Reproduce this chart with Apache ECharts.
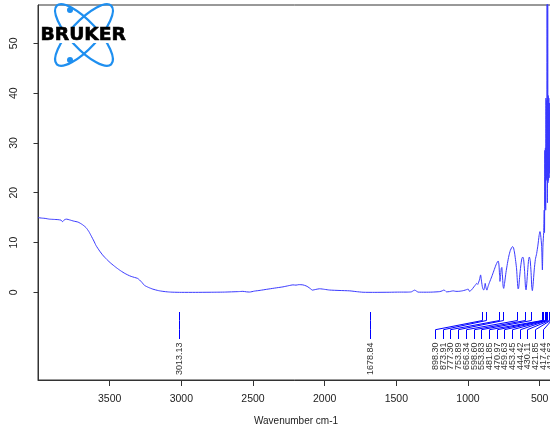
<!DOCTYPE html>
<html>
<head>
<meta charset="utf-8">
<script src="https://cdn.jsdelivr.net/npm/echarts@6/dist/echarts.min.js"></script>
<style>
  html, body { margin: 0; padding: 0; background: #ffffff; }
  #chart { width: 550px; height: 425px; }
</style>
</head>
<body>
<div id="chart"></div>
<script>
// IR spectrum: wavenumber (cm-1) and intensity
const wavenumbers = [
  4000, 3970, 3950, 3920, 3890, 3860, 3840, 3828, 3815, 3800, 3780, 3750, 3720, 3690, 3665, 3645,
  3630, 3610, 3595, 3570, 3549, 3520, 3490, 3460, 3432, 3400, 3374, 3350, 3327, 3305, 3292, 3275,
  3257, 3230, 3199, 3160, 3129, 3090, 3059, 3000, 2900, 2800, 2757, 2700, 2650, 2600, 2571, 2545,
  2524, 2490, 2450, 2407, 2350, 2291, 2250, 2221, 2200, 2180, 2152, 2130, 2117, 2100, 2086, 2060,
  2035, 2000, 1965, 1900, 1825, 1780, 1732, 1650, 1550, 1477, 1420, 1395, 1380, 1371, 1360, 1348,
  1300, 1250, 1197, 1180, 1170, 1160, 1150, 1130, 1103, 1085, 1068, 1040, 1020, 1010, 999, 990,
  987, 975, 959, 945, 940, 932, 929, 920, 912, 907, 901, 895, 889, 884, 880, 875,
  868, 860, 850, 835, 820, 805, 795, 789, 784, 780, 777, 773, 768, 764, 760, 755,
  751, 745, 735, 725, 715, 705, 695, 689, 682, 675, 667, 661, 656, 651, 647, 640,
  632, 624, 618, 612, 605, 599, 595, 590, 583, 577, 572, 566, 560, 555, 551, 546,
  538, 530, 521, 512, 504, 498, 493, 486, 481, 477, 472, 468, 466, 464, 462, 460,
  458, 456, 454, 452, 450, 448, 446, 444, 442, 440, 438, 436, 434, 432, 430, 428,
  425, 420, 415, 410, 405, 400
];
const intensity = [
  15.0, 14.9, 14.85, 14.7, 14.65, 14.6, 14.5, 14.2, 14.6, 14.7, 14.55, 14.3, 14.1, 13.6, 13.0, 12.2,
  11.4, 10.3, 9.4, 8.3, 7.5, 6.6, 5.8, 5.1, 4.5, 3.9, 3.5, 3.2, 3.0, 2.8, 2.5, 2.0,
  1.4, 1.0, 0.65, 0.35, 0.2, 0.08, 0.03, 0.0, 0.0, 0.02, 0.03, 0.05, 0.1, 0.15, 0.2, 0.1,
  0.06, 0.25, 0.4, 0.6, 0.85, 1.1, 1.35, 1.5, 1.45, 1.55, 1.5, 1.3, 1.1, 0.75, 0.45, 0.6,
  0.72, 0.6, 0.46, 0.38, 0.3, 0.15, 0.02, 0.0, 0.02, 0.05, 0.05, 0.1, 0.35, 0.45, 0.25, 0.05,
  0.03, 0.05, 0.15, 0.3, 0.45, 0.35, 0.1, 0.15, 0.3, 0.2, 0.2, 0.3, 0.45, 0.55, 0.65, 0.2,
  0.1, 0.5, 1.1, 1.6, 1.8, 1.6, 1.5, 2.5, 3.5, 2.5, 1.3, 0.6, 0.5, 1.2, 1.8, 1.0,
  0.45, 1.2, 2.0, 3.1, 4.3, 5.5, 6.1, 6.3, 5.5, 3.5, 2.2, 3.2, 4.8, 5.0, 3.6, 1.2,
  0.8, 1.8, 4.0, 5.8, 7.3, 8.4, 9.0, 9.2, 8.9, 7.9, 6.2, 4.7, 2.5, 0.7, 0.8, 3.0,
  5.3, 6.8, 7.1, 6.6, 4.2, 1.0, 0.5, 1.8, 4.6, 6.6, 7.1, 6.4, 4.0, 1.0, 0.35, 1.5,
  4.5, 6.6, 7.8, 9.5, 11.4, 12.2, 11.5, 9.2, 4.5, 9.5, 12.0, 16.5, 12.0, 28.5, 17.0, 29.0,
  16.5, 39.0, 22.5, 38.5, 23.0, 62.0, 18.0, 62.0, 22.0, 39.5, 22.5, 39.0, 23.0, 38.0, 24.0, 36.0,
  25.0, 33.0, 27.0, 30.0, 28.0, 29.0
];

// Picked peaks (cm-1)
const peakWavenumbers = [
  3013.13, 1678.84, 898.30, 873.91, 777.30, 753.89, 656.34, 598.60, 553.83,
  481.85, 470.97, 459.63, 453.45, 444.42, 430.11, 421.85, 417.44, 412.63
];

const xTicks = [3500, 3000, 2500, 2000, 1500, 1000, 500];
const yTicks = [0, 10, 20, 30, 40, 50];

const FRAME = '#333333';
const TEXT = '#222222';
const SPECTRUM_BLUE = '#3a3aff';
const PEAK_BLUE = '#0000ff';
const LOGO_BLUE = '#1e8ff0';
const SANS = "'Liberation Sans', Arial, sans-serif";

const spectrum = wavenumbers.map((w, i) => [w, intensity[i]]);

// snap a 1px vertical line onto a pixel column
const crisp = x => Math.round(x - 0.5) + 0.5;

// Spread peak labels so neighbours keep a minimum spacing, pushing leftwards
function layoutPeakLabels(api, coordSys) {
  const gap = 7.67;
  const rightLimit = coordSys.x + coordSys.width - 3.3;
  const px = peakWavenumbers.map(v => api.coord([v, 0])[0]);
  const order = px.map((_, i) => i).sort((a, b) => px[a] - px[b]);
  const lx = new Array(px.length);
  let next = Infinity;
  for (let k = order.length - 1; k >= 0; k--) {
    const i = order[k];
    let x = Math.min(px[i], next - gap);
    if (k === order.length - 1) x = Math.min(px[i], rightLimit);
    lx[i] = x;
    next = x;
  }
  return lx;
}

function renderPeak(params, api) {
  const idx = params.dataIndex;
  const v = api.value(0);
  const p = api.coord([v, 0]);
  const lx = crisp(layoutPeakLabels(api, params.coordSys)[idx]);
  const px = crisp(p[0]);
  const y0 = Math.round(p[1]);
  return {
    type: 'group',
    children: [
      {
        type: 'polyline',
        shape: { points: [[px, y0 + 20], [px, y0 + 28.5], [lx, y0 + 37.7], [lx, y0 + 47]] },
        style: { stroke: PEAK_BLUE, lineWidth: 1, fill: null }
      },
      {
        type: 'text',
        x: lx,
        y: y0 + 50.5,
        rotation: Math.PI / 2,
        style: {
          text: v.toFixed(2),
          fontSize: 9,
          fontFamily: SANS,
          fill: '#333333',
          align: 'right',
          verticalAlign: 'middle'
        }
      }
    ]
  };
}

const chart = echarts.init(document.getElementById('chart'), null, { renderer: 'canvas' });

chart.setOption({
  animation: false,
  backgroundColor: '#ffffff',
  grid: {
    left: 38, top: 5, width: 516, height: 375,
    outerBoundsMode: 'none',
    containLabel: false,
    show: true, borderColor: FRAME, borderWidth: 1, backgroundColor: 'transparent'
  },
  xAxis: {
    type: 'value',
    inverse: true,
    min: 400,
    max: 4000,
    name: 'Wavenumber cm-1',
    nameLocation: 'middle',
    nameGap: 36,
    nameTextStyle: { fontSize: 10, fontFamily: SANS, color: TEXT },
    axisLine: { show: true, onZero: false, lineStyle: { color: FRAME, width: 1 } },
    axisTick: { show: true, inside: false, length: 6, customValues: xTicks, lineStyle: { color: FRAME } },
    axisLabel: {
      customValues: xTicks, fontSize: 10.5, fontFamily: SANS, color: TEXT, margin: 14,
      formatter: v => String(v)
    },
    splitLine: { show: false }
  },
  yAxis: {
    type: 'value',
    min: -17.6,
    max: 57.7,
    axisLine: { show: true, onZero: false, lineStyle: { color: FRAME, width: 1 } },
    axisTick: { show: true, inside: false, length: 4.5, customValues: yTicks, lineStyle: { color: FRAME } },
    axisLabel: {
      customValues: yTicks, rotate: 90, fontSize: 10.5, fontFamily: SANS, color: TEXT, margin: 18,
      formatter: v => String(v)
    },
    splitLine: { show: false }
  },
  series: [
    {
      type: 'line',
      data: spectrum,
      showSymbol: false,
      symbol: 'none',
      smooth: 0.2,
      clip: true,
      lineStyle: { color: SPECTRUM_BLUE, width: 1 },
      z: 3
    },
    {
      type: 'custom',
      data: peakWavenumbers.map(v => [v, 0]),
      encode: { x: 0, y: 1 },
      renderItem: renderPeak,
      clip: false,
      z: 4
    }
  ],
  graphic: [
    {
      type: 'group',
      z: 100,
      children: [
        {
          type: 'ellipse', x: 84, y: 35, rotation: -Math.PI / 4 * 1.05,
          shape: { cx: 0, cy: 0, rx: 40, ry: 13.5 },
          style: { fill: null, stroke: LOGO_BLUE, lineWidth: 2.2 }
        },
        {
          type: 'ellipse', x: 84, y: 35, rotation: Math.PI / 4 * 1.05,
          shape: { cx: 0, cy: 0, rx: 40, ry: 13.5 },
          style: { fill: null, stroke: LOGO_BLUE, lineWidth: 2.2 }
        },
        {
          type: 'rect',
          shape: { x: 39.8, y: 28, width: 88, height: 15 },
          style: { fill: '#ffffff' }
        },
        {
          type: 'text', x: 40.5, y: 35.8, scaleX: 1.1,
          style: {
            text: 'BRUKER',
            fontSize: 17, fontWeight: 'bold', fontFamily: "'DejaVu Sans', sans-serif",
            fill: '#000000', stroke: '#000000', lineWidth: 0.6,
            align: 'left', verticalAlign: 'middle'
          }
        },
        { type: 'circle', shape: { cx: 70, cy: 10, r: 3 }, style: { fill: LOGO_BLUE } },
        { type: 'circle', shape: { cx: 70, cy: 60, r: 3 }, style: { fill: LOGO_BLUE } }
      ]
    }
  ]
});
</script>
</body>
</html>
